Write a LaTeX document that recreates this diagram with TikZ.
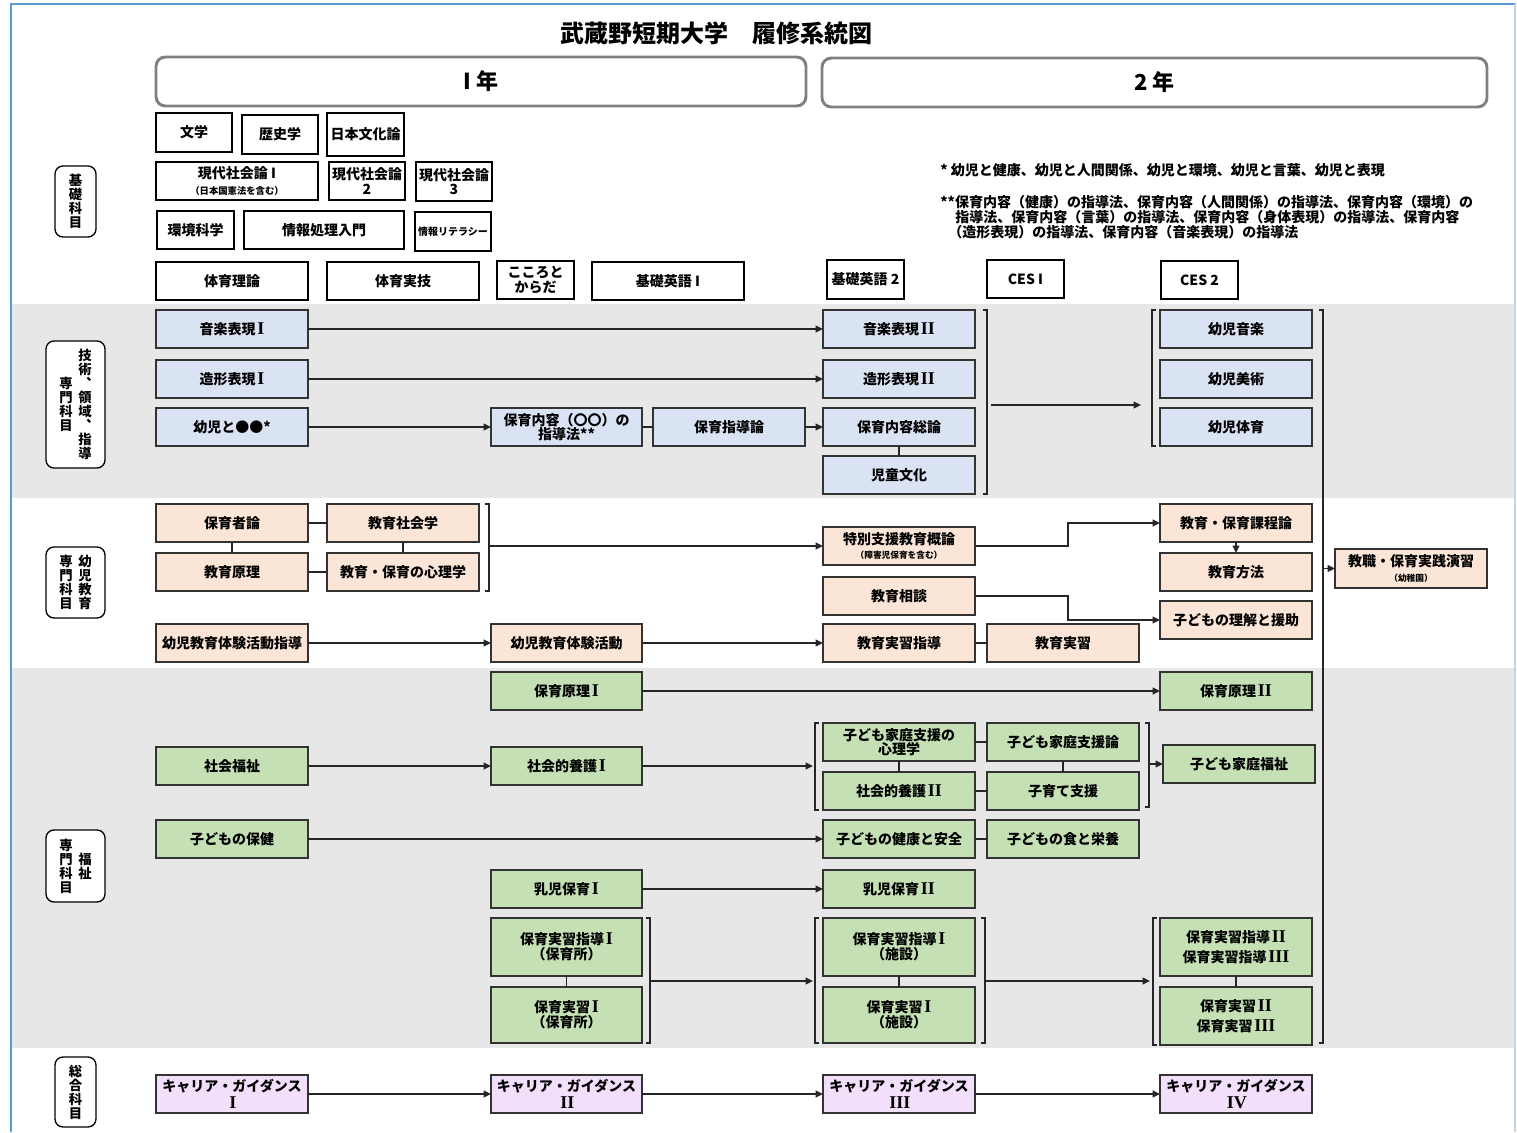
\documentclass[tikz,border=0pt]{standalone}
\usepackage{fontspec}
\setmainfont{Noto Sans CJK JP}
\newfontfamily\rnfont{Liberation Serif}
\usetikzlibrary{arrows.meta}
\definecolor{cblue}{HTML}{DAE3F3}
\definecolor{cpeach}{HTML}{FBE5D6}
\definecolor{cgreen}{HTML}{C5E0B4}
\definecolor{cpurple}{HTML}{F2DFFB}
\definecolor{cband}{HTML}{E7E7E7}
\definecolor{cframe}{HTML}{5B9BD5}
\definecolor{cframetwo}{HTML}{BDD7EE}
\definecolor{cline}{HTML}{262626}
\newcommand\bx[7]{\node[#6, minimum width={(#4-#2)*0.75pt}, minimum height={(#5-#3)*0.75pt}] (#1) at ({(#2+#4)/2},{(#3+#5)/2}) {#7};}
\newcommand\smalltext[1]{{\fontsize{6.5}{7}\selectfont #1}}
\newcommand\rn[1]{\kern1.2pt{\rnfont\bfseries\fontsize{13.5}{11}\selectfont #1}}
\begin{document}
\begin{tikzpicture}[x=0.75pt,y=-0.75pt,
  box/.style={draw=black!80, line width=1.4pt, inner sep=0pt, outer sep=0pt, align=center, font=\fontsize{10.5}{11}\selectfont\bfseries},
  base/.style={box, draw=black, line width=1.1pt, fill=white},
  blue/.style={box, fill=cblue},
  peach/.style={box, fill=cpeach},
  green/.style={box, fill=cgreen},
  purple/.style={box, fill=cpurple},
  head/.style={draw=black!50, line width=2.2pt, rounded corners=7pt, inner sep=0pt, fill=white, font=\fontsize{16.5}{18}\selectfont\bfseries},
  cat/.style={draw=black, line width=1pt, rounded corners=6pt, fill=white, inner sep=0pt},
  vtext/.style={align=center, inner sep=0pt, font=\fontsize{10}{10.5}\selectfont\bfseries},
  note/.style={anchor=west, inner sep=0pt, font=\fontsize{10.5}{12}\selectfont\bfseries},
  ln/.style={draw=cline, line width=1.1pt},
  arr/.style={ln, -{Triangle[length=5.5pt,width=5pt]}},
  brk/.style={draw=cline, line width=0.9pt}]
\useasboundingbox (0,0) rectangle (1517,1132);
\fill[white] (0,0) rectangle (1517,1132);
\fill[cband] (12,304) rectangle (1515,498);
\fill[cband] (12,668) rectangle (1515,1048);
\draw[cframe, line width=1.6pt] (11,1132) -- (11,4) -- (1516,4);
\draw[cframetwo, line width=1pt] (1515,4) -- (1515,1132);

% title and year headers
\node[font=\fontsize{18}{20}\selectfont\bfseries] (title) at (716,33) {武蔵野短期大学　履修系統図};
\bx{yearone}{156}{57}{806}{106}{head}{I 年}
\bx{yeartwo}{822}{58}{1487}{107}{head}{2 年}

% category labels
\bx{catone}{55}{166}{96}{237}{cat}{}
\node[vtext] (catonet) at (75.5,201.5) {基\\礎\\科\\目};
\bx{cattwo}{46}{341}{105}{468}{cat}{}
\node[vtext] (cattwoa) at (85,404.5) {技\\術\\︑\\領\\域\\︑\\指\\導};
\node[vtext] (cattwob) at (66,404.5) {専\\門\\科\\目};
\bx{catthree}{46}{547}{105}{618}{cat}{}
\node[vtext] (catthreea) at (85,582.5) {幼\\児\\教\\育};
\node[vtext] (catthreeb) at (66,582.5) {専\\門\\科\\目};
\bx{catfour}{46}{830}{105}{902}{cat}{}
\node[vtext] (catfoura) at (85,866) {福\\祉};
\node[vtext] (catfourb) at (66,866) {専\\門\\科\\目};
\bx{catfive}{55}{1057}{96}{1127}{cat}{}
\node[vtext] (catfivet) at (75.5,1092) {総\\合\\科\\目};

% basic subjects
\bx{bungaku}{156}{113}{232}{152}{base}{文学}
\bx{rekishi}{242}{115}{318}{154}{base}{歴史学}
\bx{nihon}{327}{113}{404}{156}{base}{日本文化論}
\bx{gendaione}{156}{162}{318}{200}{base}{現代社会論 I\\[1pt]{\fontsize{7}{7.5}\selectfont（日本国憲法を含む）}}
\bx{gendaitwo}{329}{162}{405}{200}{base}{現代社会論\\2}
\bx{gendaithree}{416}{162}{492}{201}{base}{現代社会論\\3}
\bx{kankyo}{157}{211}{234}{249}{base}{環境科学}
\bx{joho}{244}{211}{404}{249}{base}{情報処理入門}
\bx{literacy}{415}{212}{491}{251}{base}{{\fontsize{7.5}{8}\selectfont 情報リテラシー}}
\bx{taiikuriron}{156}{262}{308}{300}{base}{体育理論}
\bx{taiikujitsugi}{327}{262}{479}{300}{base}{体育実技}
\bx{kokoro}{497}{261}{574}{299}{base}{こころと\\からだ}
\bx{eigoone}{592}{262}{744}{300}{base}{基礎英語 I}
\bx{eigotwo}{827}{260}{904}{299}{base}{基礎英語 2}
\bx{cesone}{987}{260}{1064}{298}{base}{CES I}
\bx{cestwo}{1161}{261}{1238}{299}{base}{CES 2}

% notes
\node[note] (noteone) at (940,170) {* 幼児と健康、幼児と人間関係、幼児と環境、幼児と言葉、幼児と表現};
\node[note] (notetwo) at (940,202) {**保育内容（健康）の指導法、保育内容（人間関係）の指導法、保育内容（環境）の};
\node[note] (notethree) at (955,217) {指導法、保育内容（言葉）の指導法、保育内容（身体表現）の指導法、保育内容};
\node[note] (notefour) at (948,232) {（造形表現）の指導法、保育内容（音楽表現）の指導法};

% section 1 (blue)
\bx{ongakuone}{156}{310}{308}{348}{blue}{音楽表現\rn{I}}
\bx{zokeione}{156}{360}{308}{398}{blue}{造形表現\rn{I}}
\bx{yoji}{156}{408}{308}{446}{blue}{幼児と●●*}
\bx{naiyo}{491}{408}{642}{446}{blue}{保育内容（〇〇）の\\指導法**}
\bx{shidoron}{653}{408}{805}{446}{blue}{保育指導論}
\bx{ongakutwo}{823}{310}{975}{348}{blue}{音楽表現\rn{II}}
\bx{zokeitwo}{823}{360}{975}{398}{blue}{造形表現\rn{II}}
\bx{soron}{823}{408}{975}{446}{blue}{保育内容総論}
\bx{jido}{823}{456}{975}{494}{blue}{児童文化}
\bx{yojiongaku}{1160}{310}{1312}{348}{blue}{幼児音楽}
\bx{yojibijutsu}{1160}{360}{1312}{398}{blue}{幼児美術}
\bx{yojitaiiku}{1160}{408}{1312}{446}{blue}{幼児体育}

% section 2 (peach)
\bx{hoikusha}{156}{504}{308}{542}{peach}{保育者論}
\bx{kyoikushakai}{327}{504}{479}{542}{peach}{教育社会学}
\bx{kyoikugenri}{156}{553}{308}{591}{peach}{教育原理}
\bx{shinri}{327}{553}{479}{591}{peach}{教育・保育の心理学}
\bx{tokubetsu}{823}{527}{975}{565}{peach}{特別支援教育概論\\\smalltext{（障害児保育を含む）}}
\bx{sodan}{823}{577}{975}{615}{peach}{教育相談}
\bx{katei}{1160}{504}{1312}{542}{peach}{教育・保育課程論}
\bx{hoho}{1160}{553}{1312}{591}{peach}{教育方法}
\bx{rikai}{1160}{601}{1312}{639}{peach}{子どもの理解と援助}
\bx{kyoshoku}{1335}{549}{1487}{588}{peach}{教職・保育実践演習\\\smalltext{（幼稚園）}}
\bx{taikenshido}{156}{624}{308}{662}{peach}{幼児教育体験活動指導}
\bx{taiken}{491}{624}{642}{662}{peach}{幼児教育体験活動}
\bx{jishushido}{823}{624}{975}{662}{peach}{教育実習指導}
\bx{jishu}{987}{624}{1139}{662}{peach}{教育実習}

% section 3 (green)
\bx{genrione}{491}{672}{642}{710}{green}{保育原理\rn{I}}
\bx{genritwo}{1160}{672}{1312}{710}{green}{保育原理\rn{II}}
\bx{fukushi}{156}{747}{308}{785}{green}{社会福祉}
\bx{yogoone}{491}{747}{642}{785}{green}{社会的養護\rn{I}}
\bx{kateishinri}{823}{723}{975}{761}{green}{子ども家庭支援の\\心理学}
\bx{kateishien}{987}{723}{1139}{761}{green}{子ども家庭支援論}
\bx{yogotwo}{823}{772}{975}{810}{green}{社会的養護\rn{II}}
\bx{kosodate}{987}{772}{1139}{810}{green}{子育て支援}
\bx{kateifukushi}{1163}{745}{1315}{783}{green}{子ども家庭福祉}
\bx{hoken}{156}{820}{308}{858}{green}{子どもの保健}
\bx{kenko}{823}{820}{975}{858}{green}{子どもの健康と安全}
\bx{shoku}{987}{820}{1139}{858}{green}{子どもの食と栄養}
\bx{nyujione}{491}{870}{642}{908}{green}{乳児保育\rn{I}}
\bx{nyujitwo}{823}{870}{975}{908}{green}{乳児保育\rn{II}}
\bx{hjsone}{491}{918}{642}{976}{green}{保育実習指導\rn{I}\\（保育所）}
\bx{hjone}{491}{987}{642}{1043}{green}{保育実習\rn{I}\\（保育所）}
\bx{hjsoneb}{823}{918}{975}{976}{green}{保育実習指導\rn{I}\\（施設）}
\bx{hjoneb}{823}{987}{975}{1043}{green}{保育実習\rn{I}\\（施設）}
\bx{hjstwo}{1160}{918}{1312}{976}{green}{保育実習指導\rn{II}\\[4pt]保育実習指導\rn{III}}
\bx{hjtwo}{1160}{987}{1312}{1045}{green}{保育実習\rn{II}\\[4pt]保育実習\rn{III}}

% section 4 (purple)
\bx{careerone}{156}{1075}{308}{1113}{purple}{キャリア・ガイダンス\\[1.5pt]\rn{I}}
\bx{careertwo}{491}{1075}{642}{1113}{purple}{キャリア・ガイダンス\\[1.5pt]\rn{II}}
\bx{careerthree}{823}{1075}{975}{1113}{purple}{キャリア・ガイダンス\\[1.5pt]\rn{III}}
\bx{careerfour}{1160}{1075}{1312}{1113}{purple}{キャリア・ガイダンス\\[1.5pt]\rn{IV}}

% brackets
\draw[brk] (983,310) -- (987,310) -- (987,494) -- (983,494);
\draw[brk] (1156,310) -- (1152,310) -- (1152,446) -- (1156,446);
\draw[brk] (1319,310) -- (1323,310) -- (1323,1043) -- (1319,1043);
\draw[brk] (485,504) -- (489,504) -- (489,591) -- (485,591);
\draw[brk] (819,723) -- (815,723) -- (815,810) -- (819,810);
\draw[brk] (1145,723) -- (1149,723) -- (1149,807) -- (1145,807);
\draw[brk] (646,918) -- (650,918) -- (650,1043) -- (646,1043);
\draw[brk] (819,918) -- (815,918) -- (815,1043) -- (819,1043);
\draw[brk] (981,918) -- (985,918) -- (985,1043) -- (981,1043);
\draw[brk] (1157,918) -- (1153,918) -- (1153,1045) -- (1157,1045);

% bracket anchor points
\coordinate (bonea) at (991,405);
\coordinate (boneb) at (1141,405);
\coordinate (btwo) at (1323,568.5);
\coordinate (bthree) at (489,546);
\coordinate (bfour) at (813,766);
\coordinate (bfive) at (1149,764);
\coordinate (bsixa) at (650,981);
\coordinate (bsixb) at (813,981);
\coordinate (bsevena) at (985,981);
\coordinate (bsevenb) at (1150,981);
\coordinate (jone) at (1068,546);
\coordinate (jtwo) at (1068,596);

% connectors section 1
\draw[arr] (ongakuone) -- (ongakutwo);
\draw[arr] (zokeione) -- (zokeitwo);
\draw[arr] (yoji) -- (naiyo);
\draw[ln] (naiyo) -- (shidoron);
\draw[arr] (shidoron) -- (soron);
\draw[ln] (soron) -- (jido);
\draw[arr] (bonea) -- (boneb);
\draw[arr] (btwo) -- (kyoshoku.west);

% connectors section 2
\draw[ln] (hoikusha) -- (kyoikushakai);
\draw[ln] (hoikusha) -- (kyoikugenri);
\draw[ln] (kyoikushakai) -- (shinri);
\draw[ln] (kyoikugenri) -- (shinri);
\draw[arr] (bthree) -- (tokubetsu.west);
\draw[arr] (tokubetsu.east) -- (jone) |- (katei.west);
\draw[arr] (katei) -- (hoho);
\draw[arr] (sodan.east) -- (jtwo) |- (rikai.west);
\draw[arr] (taikenshido) -- (taiken);
\draw[arr] (taiken) -- (jishushido);
\draw[ln] (jishushido) -- (jishu);

% connectors section 3
\draw[arr] (genrione) -- (genritwo);
\draw[arr] (fukushi) -- (yogoone);
\draw[arr] (yogoone.east) -- (bfour);
\draw[ln] (kateishinri) -- (kateishien);
\draw[ln] (yogotwo) -- (kosodate);
\draw[ln] (kateishinri) -- (yogotwo);
\draw[ln] (kateishien) -- (kosodate);
\draw[arr] (bfive) -- (kateifukushi.west);
\draw[arr] (hoken) -- (kenko);
\draw[ln] (kenko) -- (shoku);
\draw[arr] (nyujione) -- (nyujitwo);
\draw[ln] (hjsone) -- (hjone);
\draw[ln] (hjsoneb) -- (hjoneb);
\draw[ln] (hjstwo) -- (hjtwo);
\draw[arr] (bsixa) -- (bsixb);
\draw[arr] (bsevena) -- (bsevenb);

% connectors section 4
\draw[arr] (careerone) -- (careertwo);
\draw[arr] (careertwo) -- (careerthree);
\draw[arr] (careerthree) -- (careerfour);
\end{tikzpicture}
\end{document}
